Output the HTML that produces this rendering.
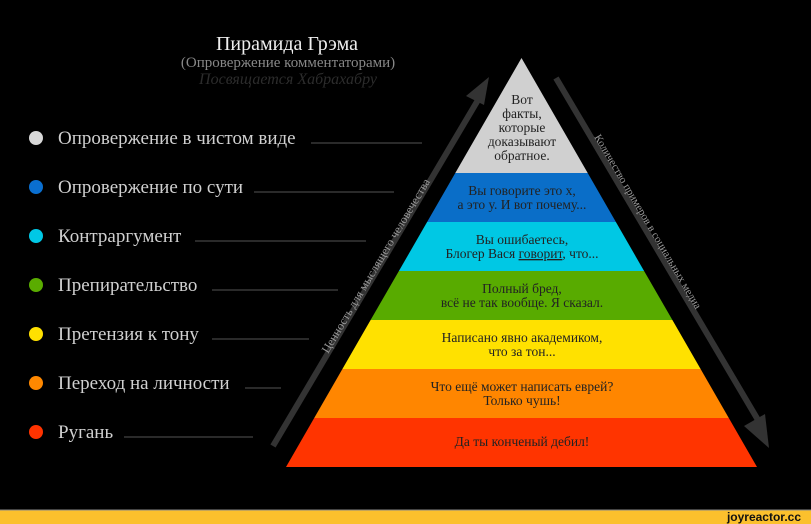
<!DOCTYPE html>
<html><head><meta charset="utf-8"><style>
html,body{margin:0;padding:0;background:#000;}
svg{display:block;}
text{font-family:"Liberation Serif","DejaVu Serif",serif;}
</style></head><body>
<svg width="811" height="524" viewBox="0 0 811 524" xmlns="http://www.w3.org/2000/svg">
<rect width="811" height="524" fill="#000"/>
<text x="287" y="50" font-size="20" fill="#eee" text-anchor="middle">Пирамида Грэма</text>
<text x="288" y="67" font-size="15" fill="#888" text-anchor="middle">(Опровержение комментаторами)</text>
<text x="288" y="84" font-size="16" fill="#2c2c2c" font-style="italic" text-anchor="middle">Посвящается Хабрахабру</text>

<g font-size="19" fill="#d0d0d0">
<circle cx="36" cy="138" r="7" fill="#d8d8d8"/><text x="58" y="144">Опровержение в чистом виде</text><line x1="311" y1="143" x2="422" y2="143" stroke="#555"/>
<circle cx="36" cy="187" r="7" fill="#0a6fd0"/><text x="58" y="193">Опровержение по сути</text><line x1="254" y1="192" x2="394" y2="192" stroke="#555"/>
<circle cx="36" cy="236" r="7" fill="#00c8e6"/><text x="58" y="242">Контраргумент</text><line x1="195" y1="241" x2="366" y2="241" stroke="#555"/>
<circle cx="36" cy="285" r="7" fill="#5aac00"/><text x="58" y="291">Препирательство</text><line x1="212" y1="290" x2="338" y2="290" stroke="#555"/>
<circle cx="36" cy="334" r="7" fill="#ffe000"/><text x="58" y="340">Претензия к тону</text><line x1="212" y1="339" x2="309" y2="339" stroke="#555"/>
<circle cx="36" cy="383" r="7" fill="#ff8800"/><text x="58" y="389">Переход на личности</text><line x1="245" y1="388" x2="281" y2="388" stroke="#555"/>
<circle cx="36" cy="432" r="7" fill="#ff3300"/><text x="58" y="438">Ругань</text><line x1="124" y1="437" x2="253" y2="437" stroke="#555"/>
</g>

<line x1="273" y1="446" x2="478" y2="100" stroke="#333" stroke-width="6"/>
<polygon points="489,77 466,96 484,105" fill="#333"/>
<line x1="556" y1="78" x2="758" y2="420" stroke="#333" stroke-width="6"/>
<polygon points="769,448 744,426 765,414" fill="#333"/>
<text font-size="12" fill="#999" transform="translate(328,354) rotate(-59.3)">Ценность для мыслящего человечества</text>
<text font-size="11" fill="#999" transform="translate(594,137) rotate(59.5)">Количество примеров в социальных медиа</text>

<polygon points="521.5,58 587.7,173 455.3,173" fill="#d0d0d0"/>
<polygon points="455.3,173 587.7,173 615.9,222 427.1,222" fill="#0a6ec8"/>
<polygon points="427.1,222 615.9,222 644.1,271 398.9,271" fill="#00c8e4"/>
<polygon points="398.9,271 644.1,271 672.4,320 370.6,320" fill="#58ab00"/>
<polygon points="370.6,320 672.4,320 700.6,369 342.4,369" fill="#ffe100"/>
<polygon points="342.4,369 700.6,369 728.8,418 314.2,418" fill="#ff8600"/>
<polygon points="314.2,418 728.8,418 757,467 286,467" fill="#ff3400"/>

<g font-size="13.5" fill="#222" text-anchor="middle">
<text x="522" y="104">Вот</text>
<text x="522" y="118">факты,</text>
<text x="522" y="132">которые</text>
<text x="522" y="146">доказывают</text>
<text x="522" y="160">обратное.</text>
<text x="522" y="195">Вы говорите это х,</text>
<text x="522" y="209">а это у. И вот почему...</text>
<text x="522" y="244">Вы ошибаетесь,</text>
<text x="522" y="258">Блогер Вася <tspan text-decoration="underline">говорит</tspan>, что...</text>
<text x="522" y="293">Полный бред,</text>
<text x="522" y="307">всё не так вообще. Я сказал.</text>
<text x="522" y="342">Написано явно академиком,</text>
<text x="522" y="356">что за тон...</text>
<text x="522" y="391">Что ещё может написать еврей?</text>
<text x="522" y="405">Только чушь!</text>
<text x="522" y="446">Да ты конченый дебил!</text>
</g>

<rect x="0" y="510" width="811" height="14" fill="#fbc02d"/>
<line x1="0" y1="510" x2="811" y2="510" stroke="#888"/>
<text x="801" y="521" text-anchor="end" fill="#111" style="font-family:'Liberation Sans',sans-serif;font-size:12px;font-weight:bold">joyreactor.cc</text>
</svg>
</body></html>
